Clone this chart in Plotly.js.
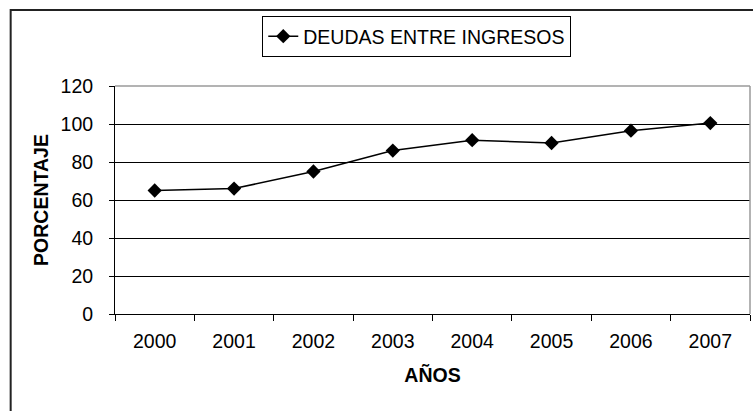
<!DOCTYPE html>
<html>
<head>
<meta charset="utf-8">
<script src="https://cdn.plot.ly/plotly-3.0.1.min.js"></script>
<style>
html,body{margin:0;padding:0;background:#fff;}
#chart{width:753px;height:411px;}
</style>
</head>
<body>
<div id="chart"></div>
<script>
const years = ['2000','2001','2002','2003','2004','2005','2006','2007'];
const deudasIngresos = [65, 66, 75, 86, 91.5, 90, 96.5, 100.5];
const seriesName = 'DEUDAS ENTRE INGRESOS';
const yTicks = [0, 20, 40, 60, 80, 100, 120];

const FONT = 'Liberation Sans, Arial, sans-serif';
const FS = 19.5;
const L = 114.5, R = 750.5, T = 86, B = 314, W = 753, H = 411;
const pw = R - L, ph = B - T;
const px = v => (v - L) / pw;
const py = v => (B - v) / ph;

const trace = {
  x: years,
  y: deudasIngresos,
  name: seriesName,
  type: 'scatter',
  mode: 'lines+markers',
  line: {color: '#000', width: 1.5},
  marker: {symbol: 'diamond', size: 11, color: '#000'},
  cliponaxis: false
};

const layout = {
  width: W, height: H,
  margin: {l: L, r: W - R, t: T, b: H - B, pad: 0},
  paper_bgcolor: '#fff',
  plot_bgcolor: '#fff',
  font: {family: FONT, size: FS, color: '#000'},
  showlegend: true,
  legend: {
    x: px(262), y: py(16), xanchor: 'left', yanchor: 'top',
    bordercolor: '#000', borderwidth: 1, bgcolor: '#fff',
    font: {family: FONT, size: FS, color: '#000'},
    itemwidth: 30
  },
  xaxis: {
    type: 'category',
    range: [-0.5, 7.5],
    tickson: 'boundaries',
    ticks: 'outside', ticklen: 6, tickcolor: '#000', tickwidth: 1,
    showline: true, linecolor: '#000', linewidth: 1,
    showgrid: false, zeroline: false,
    tickfont: {family: FONT, size: FS, color: '#000'},
    ticklabelstandoff: 10,
    title: {text: 'AÑOS', font: {family: FONT, size: FS, color: '#000', weight: 'bold'}, standoff: 16}
  },
  yaxis: {
    range: [0, 120],
    tickvals: yTicks,
    ticktext: yTicks.map(String),
    ticks: 'outside', ticklen: 5, tickcolor: '#000', tickwidth: 1,
    showline: true, linecolor: '#000', linewidth: 1,
    showgrid: true, gridcolor: '#000', gridwidth: 1,
    zeroline: false,
    tickfont: {family: FONT, size: FS, color: '#000'},
    ticklabelstandoff: 12,
    title: {text: 'PORCENTAJE', font: {family: FONT, size: FS, color: '#000', weight: 'bold'}, standoff: 6}
  },
  shapes: [
    {type: 'line', xref: 'paper', yref: 'paper', x0: 0, x1: 1, y0: 1, y1: 1, line: {color: '#9a9a9a', width: 1.5}, layer: 'above'},
    {type: 'line', xref: 'paper', yref: 'paper', x0: 1, x1: 1, y0: 0, y1: 1, line: {color: '#9a9a9a', width: 1.5}, layer: 'above'},
    {type: 'rect', xref: 'paper', yref: 'paper', x0: px(10), x1: px(770), y0: py(10), y1: py(430), line: {color: '#222', width: 2}, fillcolor: 'rgba(0,0,0,0)', layer: 'below'}
  ]
};

Plotly.newPlot('chart', [trace], layout, {displayModeBar: false, staticPlot: true});
</script>
</body>
</html>
